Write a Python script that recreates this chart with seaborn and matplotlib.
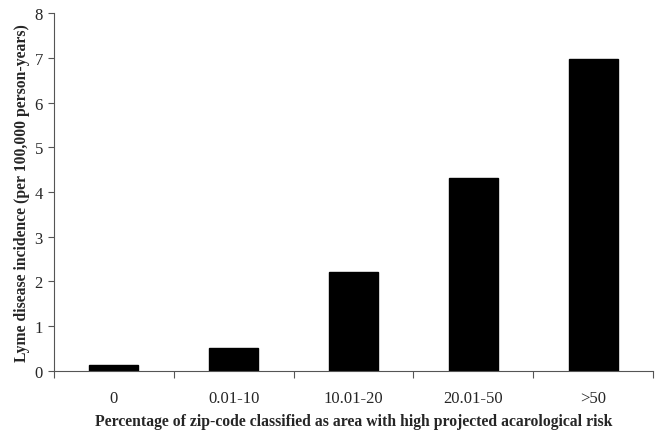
import numpy as np
import pandas as pd
import matplotlib
matplotlib.use("Agg")
import matplotlib.pyplot as plt
import seaborn as sns

# data
categories = ["0", "0.01-10", "10.01-20", "20.01-50", ">50"]
incidence = [0.14, 0.51, 2.21, 4.32, 6.97]

df = pd.DataFrame({"cat": categories, "val": incidence})

sns.set_style("white")
plt.rcParams["font.family"] = ["Liberation Serif", "DejaVu Serif"]

fig = plt.figure(figsize=(6.56, 4.31), dpi=100)
ax = fig.add_axes([0.0823, 0.1369, 0.9131, 0.8306])

sns.barplot(data=df, x="cat", y="val", color="black", width=0.41,
            saturation=1, edgecolor="black", ax=ax)

ax.set_xlim(-0.5, 4.5)
ax.set_ylim(0, 8)
ax.set_yticks(range(0, 9))
ax.tick_params(axis="y", labelsize=12, length=4, width=0.8, direction="out",
               left=True, color="#555555", pad=4)

# category labels centred, tick marks between categories
ax.set_xticks(np.arange(len(categories)), labels=categories, minor=True)
ax.set_xticks(np.arange(-0.5, len(categories), 1.0), labels=[""] * (len(categories) + 1))
ax.tick_params(axis="x", which="minor", length=0, labelsize=12, pad=14)
ax.tick_params(axis="x", which="major", length=5, width=0.8, direction="out",
               bottom=True, color="#555555")

sns.despine(ax=ax)
for s in ["left", "bottom"]:
    ax.spines[s].set_color("#555555")
    ax.spines[s].set_linewidth(0.8)

ax.set_xlabel("Percentage of zip-code classified as area with high projected acarological risk",
              fontsize=11.3, fontweight="bold", labelpad=5)
ax.set_ylabel("Lyme disease incidence (per 100,000 person-years)",
              fontsize=11.3, fontweight="bold", labelpad=3)

fig.savefig("out.png", dpi=100)
